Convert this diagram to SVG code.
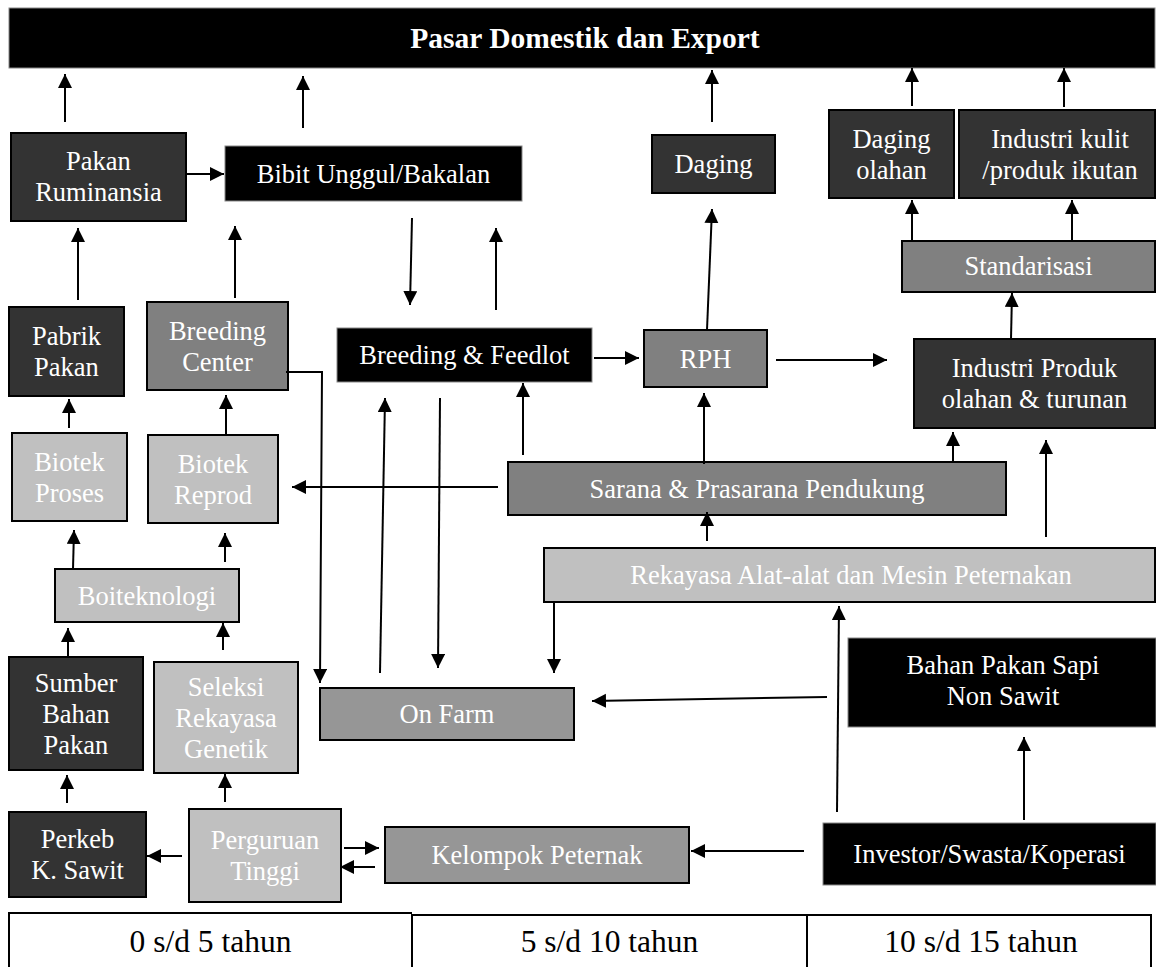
<svg xmlns="http://www.w3.org/2000/svg" width="1156" height="967" viewBox="0 0 1156 967">
<style>
.t{font-family:"Liberation Serif","Times New Roman",serif;font-size:26.5px;fill:#fff;text-anchor:middle}
.tt{font-family:"Liberation Serif","Times New Roman",serif;font-size:29.5px;font-weight:bold;fill:#fff;text-anchor:middle}
.tb{font-family:"Liberation Serif","Times New Roman",serif;font-size:31.5px;fill:#000;text-anchor:middle}
.k{fill:#000;stroke:#888;stroke-width:1}
.d{fill:#333;stroke:#000;stroke-width:2}
.m{fill:#808080;stroke:#000;stroke-width:2}
.o{fill:#969696;stroke:#000;stroke-width:2}
.l{fill:#c0c0c0;stroke:#000;stroke-width:2}
.c line,.c polyline{stroke:#000;stroke-width:2;fill:none}
.a{marker-end:url(#ah)}
</style>
<defs>
<marker id="ah" markerUnits="userSpaceOnUse" markerWidth="16" markerHeight="16" refX="14" refY="7" orient="auto">
<path d="M0,0 L14,7 L0,14 Z" fill="#000"/>
</marker>
</defs>
<rect width="1156" height="967" fill="#fff"/>

<g id="title"><rect class="k" x="9" y="8" width="1146" height="60"/><text class="tt" x="585" y="48">Pasar Domestik dan Export</text></g>
<g id="pakan-ruminansia"><rect class="d" x="11" y="133" width="175" height="88"/><text class="t" x="98.5" y="170">Pakan</text><text class="t" x="98.5" y="201">Ruminansia</text></g>
<g id="bibit"><rect class="k" x="225" y="146" width="297" height="55"/><text class="t" x="373.5" y="182.5">Bibit Unggul/Bakalan</text></g>
<g id="daging"><rect class="d" x="652" y="135" width="123" height="58"/><text class="t" x="713.5" y="173">Daging</text></g>
<g id="daging-olahan"><rect class="d" x="829" y="110" width="125" height="88"/><text class="t" x="891.5" y="147.5">Daging</text><text class="t" x="891.5" y="178.5">olahan</text></g>
<g id="industri-kulit"><rect class="d" x="959" y="110" width="196" height="88"/><text class="t" x="1060" y="147.5">Industri kulit</text><text class="t" x="1060" y="178.5">/produk ikutan</text></g>
<g id="standarisasi"><rect class="m" x="902" y="241" width="253" height="51"/><text class="t" x="1028.5" y="275">Standarisasi</text></g>
<g id="pabrik-pakan"><rect class="d" x="9" y="307" width="115" height="89"/><text class="t" x="66.5" y="345">Pabrik</text><text class="t" x="66.5" y="376">Pakan</text></g>
<g id="breeding-center"><rect class="m" x="147" y="302" width="141" height="88"/><text class="t" x="217.5" y="339.5">Breeding</text><text class="t" x="217.5" y="370.5">Center</text></g>
<g id="breeding-feedlot"><rect class="k" x="337" y="328" width="255" height="54"/><text class="t" x="464.5" y="364">Breeding &amp; Feedlot</text></g>
<g id="rph"><rect class="m" x="644" y="330" width="123" height="57"/><text class="t" x="705.5" y="367.5">RPH</text></g>
<g id="industri-produk"><rect class="d" x="914" y="339" width="241" height="89"/><text class="t" x="1034.5" y="377">Industri Produk</text><text class="t" x="1034.5" y="408">olahan &amp; turunan</text></g>
<g id="biotek-proses"><rect class="l" x="12" y="433" width="115" height="88"/><text class="t" x="69.5" y="470.5">Biotek</text><text class="t" x="69.5" y="501.5">Proses</text></g>
<g id="biotek-reprod"><rect class="l" x="148" y="435" width="130" height="88"/><text class="t" x="213" y="472.5">Biotek</text><text class="t" x="213" y="503.5">Reprod</text></g>
<g id="sarana"><rect class="m" x="508" y="462" width="498" height="53"/><text class="t" x="757" y="497.5">Sarana &amp; Prasarana Pendukung</text></g>
<g id="rekayasa"><rect class="l" x="544" y="548" width="611" height="54"/><text class="t" x="851" y="584">Rekayasa Alat-alat dan Mesin Peternakan</text></g>
<g id="boiteknologi"><rect class="l" x="55" y="569" width="184" height="53"/><text class="t" x="147" y="604.5">Boiteknologi</text></g>
<g id="bahan-pakan-sapi"><rect class="k" x="848" y="638" width="308" height="89"/><text class="t" x="1003" y="674">Bahan Pakan Sapi</text><text class="t" x="1003" y="705">Non Sawit</text></g>
<g id="sumber-bahan-pakan"><rect class="d" x="9" y="657" width="134" height="113"/><text class="t" x="76" y="691.5">Sumber</text><text class="t" x="76" y="722.5">Bahan</text><text class="t" x="76" y="753.5">Pakan</text></g>
<g id="seleksi"><rect class="l" x="154" y="662" width="144" height="111"/><text class="t" x="226" y="695.5">Seleksi</text><text class="t" x="226" y="726.5">Rekayasa</text><text class="t" x="226" y="757.5">Genetik</text></g>
<g id="on-farm"><rect class="o" x="320" y="688" width="254" height="52"/><text class="t" x="447" y="723">On Farm</text></g>
<g id="perkeb"><rect class="d" x="9" y="812" width="137" height="85"/><text class="t" x="77.5" y="848">Perkeb</text><text class="t" x="77.5" y="879">K. Sawit</text></g>
<g id="perguruan"><rect class="l" x="189" y="809" width="152" height="93"/><text class="t" x="265" y="849">Perguruan</text><text class="t" x="265" y="880">Tinggi</text></g>
<g id="kelompok"><rect class="o" x="385" y="827" width="304" height="56"/><text class="t" x="537" y="864">Kelompok Peternak</text></g>
<g id="investor"><rect class="k" x="823" y="823" width="333" height="62"/><text class="t" x="989.5" y="863">Investor/Swasta/Koperasi</text></g>

<g id="timeline">
<path d="M9,968 V913 H412 M412,968 V915 H1151 V968 M807,915 V968" fill="none" stroke="#000" stroke-width="2"/>
<text class="tb" x="210.5" y="952">0 s/d 5 tahun</text>
<text class="tb" x="609.5" y="952">5 s/d 10 tahun</text>
<text class="tb" x="981" y="952">10 s/d 15 tahun</text>
</g>

<g id="connectors" class="c">
<line class="a" x1="65" y1="122" x2="65" y2="74"/>
<line class="a" x1="303" y1="128" x2="303" y2="76"/>
<line class="a" x1="712" y1="122" x2="712" y2="70"/>
<line class="a" x1="912" y1="106" x2="912" y2="68"/>
<line class="a" x1="1064" y1="107" x2="1064" y2="68"/>
<line class="a" x1="187" y1="174" x2="224" y2="174"/>
<line class="a" x1="412" y1="218" x2="410" y2="305"/>
<line class="a" x1="496" y1="310" x2="496" y2="228"/>
<line class="a" x1="78" y1="300" x2="78" y2="228"/>
<line class="a" x1="235" y1="298" x2="235" y2="226"/>
<line class="a" x1="707" y1="330" x2="712" y2="209"/>
<line class="a" x1="912" y1="241" x2="912" y2="200"/>
<line class="a" x1="1072" y1="241" x2="1072" y2="200"/>
<line class="a" x1="1011" y1="339" x2="1012" y2="293"/>
<line class="a" x1="69" y1="428" x2="69" y2="399"/>
<line class="a" x1="226" y1="435" x2="226" y2="395"/>
<polyline class="a" points="286,372 322,372 320,683"/>
<line class="a" x1="380" y1="673" x2="385" y2="398"/>
<line class="a" x1="440" y1="398" x2="438" y2="668"/>
<line class="a" x1="523" y1="455" x2="523" y2="383"/>
<line class="a" x1="594" y1="358" x2="639" y2="358"/>
<line class="a" x1="776" y1="360" x2="887" y2="360"/>
<line class="a" x1="704" y1="464" x2="704" y2="393"/>
<line class="a" x1="953" y1="462" x2="953" y2="432"/>
<line class="a" x1="1046" y1="537" x2="1046" y2="440"/>
<line class="a" x1="498" y1="487" x2="292" y2="487"/>
<line class="a" x1="707" y1="541" x2="707" y2="512"/>
<line class="a" x1="554" y1="602" x2="554" y2="673"/>
<line class="a" x1="73" y1="569" x2="74" y2="530"/>
<line class="a" x1="225" y1="562" x2="225" y2="533"/>
<line class="a" x1="68" y1="657" x2="68" y2="628"/>
<line class="a" x1="223" y1="650" x2="223" y2="623"/>
<line class="a" x1="67" y1="803" x2="67" y2="775"/>
<line class="a" x1="225" y1="802" x2="225" y2="774"/>
<line class="a" x1="182" y1="856" x2="147" y2="856"/>
<line class="a" x1="344" y1="848" x2="379" y2="848"/>
<line class="a" x1="375" y1="867" x2="340" y2="867"/>
<line class="a" x1="804" y1="851" x2="691" y2="851"/>
<line class="a" x1="1024" y1="820" x2="1024" y2="737"/>
<line class="a" x1="837" y1="812" x2="839" y2="606"/>
<line class="a" x1="827" y1="697" x2="592" y2="701"/>
</g>
</svg>
